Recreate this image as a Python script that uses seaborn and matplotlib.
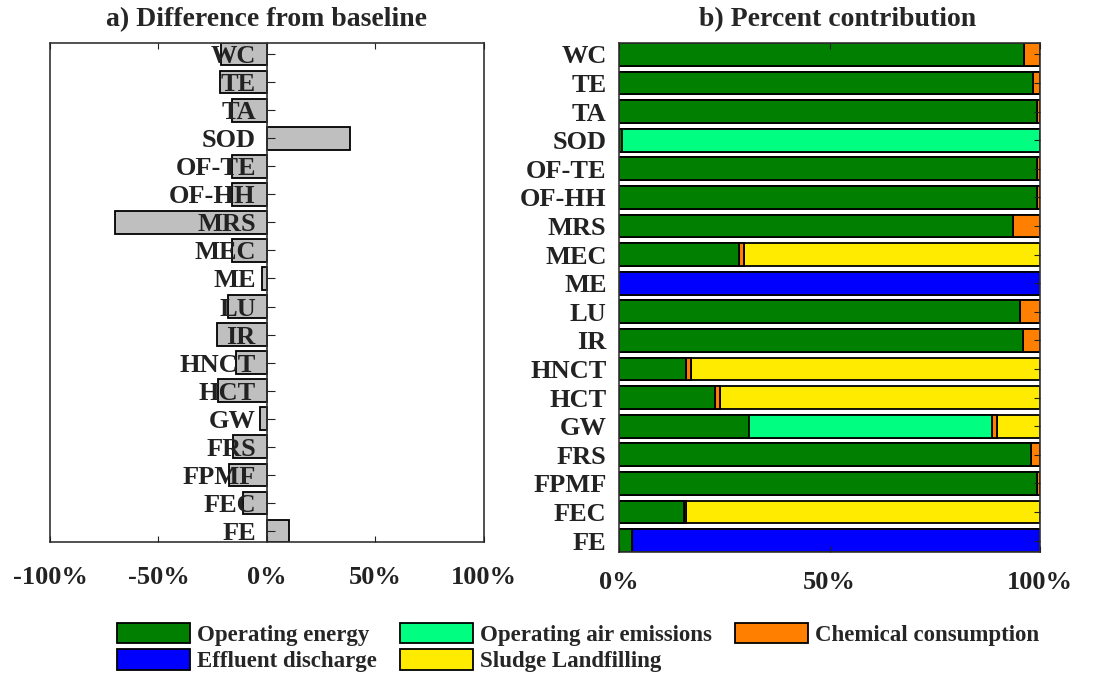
import seaborn as sns
import matplotlib.pyplot as plt
from matplotlib.patches import Patch
import pandas as pd

# categories, top to bottom
categories = ['WC', 'TE', 'TA', 'SOD', 'OF-TE', 'OF-HH', 'MRS', 'MEC', 'ME', 'LU',
              'IR', 'HNCT', 'HCT', 'GW', 'FRS', 'FPMF', 'FEC', 'FE']

# a) difference from baseline (%)
diff_from_baseline = [-21.3, -21.6, -16.3, 38.2, -16.3, -16.3, -70.0, -16.3, -2.1, -17.8,
                      -23.2, -14.4, -22.4, -3.2, -15.5, -17.4, -10.9, 10.1]

# b) percent contribution (%)
operating_energy = [96.3, 98.4, 99.3, 0.8, 99.3, 99.3, 93.7, 28.6, 0.0, 95.3,
                    95.9, 15.8, 22.7, 30.9, 97.9, 99.3, 15.5, 3.0]
air_emissions = [0, 0, 0, 99.2, 0, 0, 0, 0, 0, 0,
                 0, 0, 0, 57.7, 0, 0, 0, 0]
chemical_consumption = [3.7, 1.6, 0.7, 0, 0.7, 0.7, 6.3, 1.2, 0, 4.7,
                        4.1, 1.4, 1.3, 1.2, 2.1, 0.7, 0.3, 0.2]
effluent_discharge = [0, 0, 0, 0, 0, 0, 0, 0, 100.0, 0,
                      0, 0, 0, 0, 0, 0, 0, 96.8]
sludge_landfilling = [0, 0, 0, 0, 0, 0, 0, 70.2, 0, 0,
                      0, 82.8, 76.0, 10.2, 0, 0, 84.2, 0]

series_names = ['Operating energy', 'Operating air emissions', 'Chemical consumption',
                'Effluent discharge', 'Sludge Landfilling']
series_colors = ['#007F00', '#00FF80', '#FF8000', '#0000FF', '#FFEB00']

contrib = pd.DataFrame({
    series_names[0]: operating_energy,
    series_names[1]: air_emissions,
    series_names[2]: chemical_consumption,
    series_names[3]: effluent_discharge,
    series_names[4]: sludge_landfilling,
}, index=categories)
cum = contrib.cumsum(axis=1)

sns.set_style('ticks')
plt.rcParams['font.family'] = ['Liberation Serif', 'DejaVu Serif']
plt.rcParams['font.weight'] = 'bold'
plt.rcParams['axes.edgecolor'] = '#333333'
plt.rcParams['axes.linewidth'] = 1.2

fig = plt.figure(figsize=(10.96, 6.74), dpi=100)
ax1 = fig.add_axes([0.0456, 0.1958, 0.396, 0.7404])
ax2 = fig.add_axes([0.5648, 0.181, 0.3841, 0.7552])

FS = 19

# -------- a) Difference from baseline --------
sns.barplot(x=diff_from_baseline, y=categories, orient='h', color='#BFBFBF',
            saturation=1, edgecolor='black', linewidth=1.3, width=0.8, ax=ax1)
# y axis sits at the origin (this resets the ticks, so do it first)
ax1.spines['left'].set_position(('data', 0))
ax1.axvline(-100, color='#333333', lw=1.2, clip_on=False)
ax1.set_xlim(-100, 100)
ax1.set_ylim(17.4, -0.4)
ax1.set_xticks([-100, -50, 0, 50, 100])
ax1.set_xticklabels(['-100%', '-50%', '0%', '50%', '100%'], fontsize=FS, fontweight='bold')
ax1.set_yticks(range(len(categories)))
ax1.set_yticklabels(categories, fontsize=FS, fontweight='bold')
ax1.set_axisbelow(False)
ax1.tick_params(axis='y', direction='in', length=6, pad=8, colors='#222222')
ax1.tick_params(axis='x', direction='in', length=4, pad=17, top=True, colors='#222222')
ax1.set_xlabel('')
ax1.set_ylabel('')
ax1.set_title('a) Difference from baseline', fontsize=20, fontweight='bold', pad=12)

# -------- b) Percent contribution (stacked) --------
for name, color in reversed(list(zip(series_names, series_colors))):
    sns.barplot(x=cum[name].values, y=categories, orient='h', color=color,
                saturation=1, edgecolor='black', linewidth=1.3, width=0.8, ax=ax2)
ax2.set_xlim(0, 100)
ax2.set_ylim(17.4, -0.4)
ax2.set_xticks([0, 50, 100])
ax2.set_xticklabels(['0%', '50%', '100%'], fontsize=FS, fontweight='bold')
ax2.set_yticks(range(len(categories)))
ax2.set_yticklabels(categories, fontsize=FS, fontweight='bold')
ax2.set_axisbelow(False)
ax2.tick_params(axis='y', left=False, right=True, direction='in', length=4, pad=9,
                colors='#222222')
ax2.tick_params(axis='x', direction='in', length=4, pad=14, top=True, colors='#222222')
ax2.set_xlabel('')
ax2.set_ylabel('')
ax2.set_title('b) Percent contribution', fontsize=20, fontweight='bold', pad=12, x=0.52)

# legend filled row by row like the original (matplotlib fills columns)
order = [0, 3, 1, 4, 2]
handles = [Patch(facecolor=series_colors[i], edgecolor='black', linewidth=1.3) for i in order]
labels = [series_names[i] for i in order]
fig.legend(handles, labels, ncol=3, loc='lower left', bbox_to_anchor=(0.088, -0.028),
           frameon=False, handlelength=3.2, handleheight=1.0,
           handletextpad=0.3, columnspacing=1.0, labelspacing=0.15,
           prop={'weight': 'bold', 'size': 16.5})

fig.savefig('out.png', dpi=100)
